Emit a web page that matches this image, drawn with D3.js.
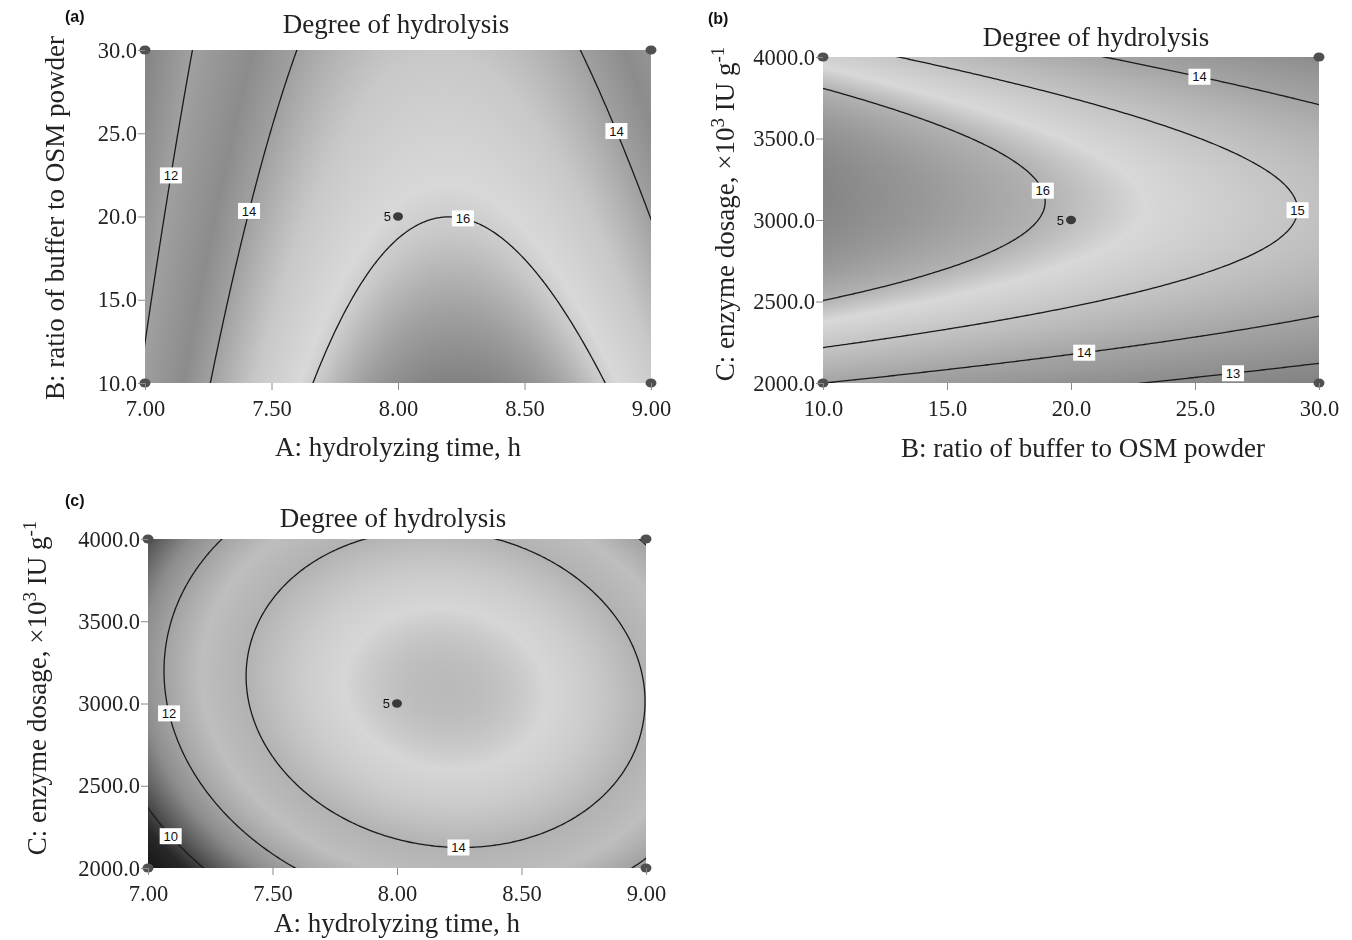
<!DOCTYPE html>
<html lang="en">
<head>
<meta charset="UTF-8">
<title>Degree of hydrolysis</title>
<script src="https://cdn.jsdelivr.net/npm/d3@7"></script>
<style>
  body { margin: 0; background: #fff; }
  #wrap { position: relative; width: 1352px; height: 940px; overflow: hidden; }
  #shade, #chart { position: absolute; left: 0; top: 0; }
  .serif { font-family: "Liberation Serif", "Times New Roman", serif; fill: #222; }
  .tag { font-family: "Liberation Sans", Arial, sans-serif; font-weight: bold; font-size: 16px; fill: #111; }
  .clabel { font-family: "Liberation Sans", Arial, sans-serif; font-size: 13px; fill: #111; }
</style>
</head>
<body>
<div id="wrap">
  <canvas id="shade" width="1352" height="940"></canvas>
  <svg id="chart" width="1352" height="940"></svg>
</div>
<script>
// factor ranges (real units): A time h, B buffer ratio, C enzyme dosage
const factorLow = [7, 10, 2000];
const factorHigh = [9, 30, 4000];

// quadratic response model in coded units: b0, A, B, C, AB, AC, BC, A2, B2, C2
const coefValues = [15.87, 1.27, -0.98, 0.47, -0.256, -0.419, -0.214, -3.16, 0.02, -2.18];

const ticksA = [7.0, 7.5, 8.0, 8.5, 9.0];
const ticksB = [10, 15, 20, 25, 30];
const ticksC = [2000, 2500, 3000, 3500, 4000];

const levelsAB = [12, 14, 16];
const levelsBC = [13, 14, 15, 16];
const levelsAC = [10, 12, 14];

// contour label anchors: [level, x value, y value]
const labelsAB = [[12, 7.08, 22.5], [14, 7.40, 20.4], [16, 8.26, 20.2], [14, 8.88, 25.3]];
const labelsBC = [[14, 25.2, 3880], [16, 18.8, 3180], [15, 28.9, 3060], [14, 20.5, 2230], [13, 26.5, 2110]];
const labelsAC = [[12, 7.07, 2940], [14, 8.25, 2130], [10, 7.10, 2200]];

const centreRuns = 5;

function model(a, b, c) {
  const k = coefValues;
  return k[0] + k[1]*a + k[2]*b + k[3]*c + k[4]*a*b + k[5]*a*c + k[6]*b*c
       + k[7]*a*a + k[8]*b*b + k[9]*c*c;
}
function coded(f, v) {
  const mid = (factorLow[f] + factorHigh[f]) / 2, half = (factorHigh[f] - factorLow[f]) / 2;
  return (v - mid) / half;
}
function real(f, u) {
  const mid = (factorLow[f] + factorHigh[f]) / 2, half = (factorHigh[f] - factorLow[f]) / 2;
  return mid + u * half;
}

const yTitleC = [["C: enzyme dosage, \u00d710"], ["3", "sup"], [" IU g"], ["-1", "sup"]];

// shade: response value -> grey level (the original colour map printed in greyscale)
const panels = [
  { tag: "(a)", tagPos: [65, 22], xf: 0, yf: 1, box: [145, 50, 651, 383],
    xTicks: ticksA, yTicks: ticksB, xFmt: ".2f", yFmt: ".1f",
    levels: levelsAB, labels: labelsAB,
    title: [396, 33], xTitle: "A: hydrolyzing time, h", xTitlePos: [398, 456],
    yTitle: [["B: ratio of buffer to OSM powder"]], yTitlePos: [64, 218],
    shade: [[10.6, 128], [12, 160], [13.3, 140], [14, 160], [15, 200], [15.8, 216], [16.1, 200], [16.6, 160], [17.1, 126]] },
  { tag: "(b)", tagPos: [708, 24], xf: 1, yf: 2, box: [823, 57, 1319, 383],
    xTicks: ticksB, yTicks: ticksC, xFmt: ".1f", yFmt: ".1f",
    levels: levelsBC, labels: labelsBC,
    title: [1096, 46], xTitle: "B: ratio of buffer to OSM powder", xTitlePos: [1083, 457],
    yTitle: yTitleC, yTitlePos: [734, 214],
    shade: [[12.4, 128], [13, 140], [14, 164], [14.5, 180], [15, 196], [15.6, 216], [16, 178], [16.5, 152], [16.9, 134]] },
  { tag: "(c)", tagPos: [65, 506], xf: 0, yf: 2, box: [148, 539, 646, 868],
    xTicks: ticksA, yTicks: ticksC, xFmt: ".2f", yFmt: ".1f",
    levels: levelsAC, labels: labelsAC,
    title: [393, 527], xTitle: "A: hydrolyzing time, h", xTitlePos: [397, 932],
    yTitle: yTitleC, yTitlePos: [46, 688],
    shade: [[8.3, 20], [9.5, 40], [10.5, 96], [11.3, 140], [12, 162], [13, 190], [14, 178], [15, 204], [15.5, 214], [16.05, 184]] }
];

const svg = d3.select("#chart");
const ctx = document.getElementById("shade").getContext("2d");
const defs = svg.append("defs");

panels.forEach((p, pi) => {
  const [l, t, r, bt] = p.box;
  const fixed = [0, 1, 2].find(f => f !== p.xf && f !== p.yf);
  const x = d3.scaleLinear().domain([factorLow[p.xf], factorHigh[p.xf]]).range([l, r]);
  const y = d3.scaleLinear().domain([factorLow[p.yf], factorHigh[p.yf]]).range([bt, t]);
  const value = (xv, yv) => {
    const u = [0, 0, 0];
    u[p.xf] = coded(p.xf, xv); u[p.yf] = coded(p.yf, yv); u[fixed] = 0;
    return model(u[0], u[1], u[2]);
  };
  const gray = d3.scaleLinear().domain(p.shade.map(d => d[0])).range(p.shade.map(d => d[1])).clamp(true);

  // shaded surface
  const w = r - l, h = bt - t;
  const img = ctx.createImageData(w, h);
  for (let j = 0; j < h; j++) {
    const yv = y.invert(t + j + 0.5);
    for (let i = 0; i < w; i++) {
      const g = Math.round(gray(value(x.invert(l + i + 0.5), yv)));
      const k = (j * w + i) * 4;
      img.data[k] = img.data[k + 1] = img.data[k + 2] = g; img.data[k + 3] = 255;
    }
  }
  ctx.putImageData(img, l, t);

  const g = svg.append("g");
  defs.append("clipPath").attr("id", "clip" + pi)
    .append("rect").attr("x", l).attr("y", t).attr("width", w).attr("height", h);

  // contour lines on a grid slightly wider than the plot, clipped to it
  const nx = 220, ny = 160, ext = 1.06;
  const grid = new Array(nx * ny);
  const ux = d3.scaleLinear().domain([0, nx - 1]).range([-ext, ext]);
  const uy = d3.scaleLinear().domain([0, ny - 1]).range([-ext, ext]);
  for (let j = 0; j < ny; j++)
    for (let i = 0; i < nx; i++)
      grid[j * nx + i] = value(real(p.xf, ux(i)), real(p.yf, uy(j)));
  const gx = d3.scaleLinear().domain([0.5, nx - 0.5]).range([x(real(p.xf, -ext)), x(real(p.xf, ext))]);
  const gy = d3.scaleLinear().domain([0.5, ny - 0.5]).range([y(real(p.yf, -ext)), y(real(p.yf, ext))]);
  const contours = d3.contours().size([nx, ny]).thresholds(p.levels)(grid);
  const line = d3.line().x(d => gx(d[0])).y(d => gy(d[1]));
  const ringsByLevel = {};
  const cg = g.append("g").attr("clip-path", `url(#clip${pi})`);
  contours.forEach(cn => {
    ringsByLevel[cn.value] = [];
    cn.coordinates.forEach(poly => poly.forEach(ring => {
      ringsByLevel[cn.value].push(ring.map(d => [gx(d[0]), gy(d[1])]));
      cg.append("path").attr("d", line(ring) + "Z")
        .attr("fill", "none").attr("stroke", "#1a1a1a").attr("stroke-width", 1.3);
    }));
  });

  // contour labels snapped to their line
  p.labels.forEach(([lev, xv, yv]) => {
    const ax = x(xv), ay = y(yv);
    let best = [ax, ay], bd = Infinity;
    (ringsByLevel[lev] || []).forEach(ring => ring.forEach(pt => {
      if (pt[0] < l || pt[0] > r || pt[1] < t || pt[1] > bt) return;
      const d = (pt[0] - ax) ** 2 + (pt[1] - ay) ** 2;
      if (d < bd) { bd = d; best = pt; }
    }));
    const lg = g.append("g").attr("transform", `translate(${best[0]},${best[1]})`);
    lg.append("rect").attr("x", -11).attr("y", -8).attr("width", 22).attr("height", 16).attr("fill", "#fff");
    lg.append("text").attr("class", "clabel").attr("text-anchor", "middle").attr("dy", "0.36em").text(lev);
  });

  // design points: corners and centre replicate
  const corners = [[0, 0], [0, 1], [1, 0], [1, 1]].map(([i, j]) =>
    [[factorLow, factorHigh][i][p.xf], [factorLow, factorHigh][j][p.yf]]);
  g.selectAll(".corner").data(corners).join("ellipse")
    .attr("cx", d => x(d[0])).attr("cy", d => y(d[1])).attr("rx", 5.5).attr("ry", 4.5).attr("fill", "#505050");
  const cx = real(p.xf, 0), cy = real(p.yf, 0);
  g.append("ellipse").attr("cx", x(cx)).attr("cy", y(cy)).attr("rx", 5).attr("ry", 4.2).attr("fill", "#3a3a3a");
  g.append("text").attr("class", "clabel").attr("x", x(cx) - 7).attr("y", y(cy)).attr("dy", "0.36em")
    .attr("text-anchor", "end").text(centreRuns);

  // axes
  const xa = g.append("g").attr("transform", `translate(0,${bt})`)
    .call(d3.axisBottom(x).tickValues(p.xTicks).tickFormat(d3.format(p.xFmt)).tickSize(7).tickPadding(10));
  const ya = g.append("g").attr("transform", `translate(${l},0)`)
    .call(d3.axisLeft(y).tickValues(p.yTicks).tickFormat(d3.format(p.yFmt)).tickSize(7).tickPadding(1));
  [xa, ya].forEach(a => {
    a.select(".domain").remove();
    a.selectAll(".tick line").attr("stroke", "#8a8a8a");
    a.selectAll(".tick text").attr("class", "serif").attr("font-size", 22.5).attr("fill", "#222");
  });

  // titles
  g.append("text").attr("class", "tag").attr("x", p.tagPos[0]).attr("y", p.tagPos[1]).text(p.tag);
  g.append("text").attr("class", "serif").attr("font-size", 27).attr("text-anchor", "middle")
    .attr("x", p.title[0]).attr("y", p.title[1]).text("Degree of hydrolysis");
  g.append("text").attr("class", "serif").attr("font-size", 27).attr("text-anchor", "middle")
    .attr("x", p.xTitlePos[0]).attr("y", p.xTitlePos[1]).text(p.xTitle);
  const yt = g.append("text").attr("class", "serif").attr("font-size", 27).attr("text-anchor", "middle")
    .attr("transform", `translate(${p.yTitlePos[0]},${p.yTitlePos[1]}) rotate(-90)`);
  p.yTitle.forEach(([s, kind]) => {
    const ts = yt.append("tspan").text(s);
    if (kind === "sup") ts.attr("baseline-shift", "super").attr("font-size", 19);
  });
});
</script>
</body>
</html>
